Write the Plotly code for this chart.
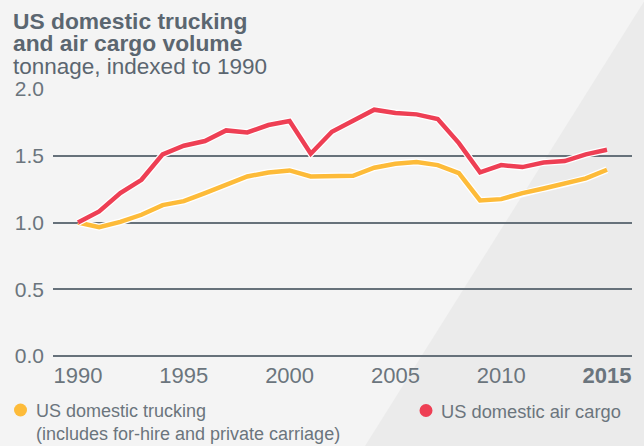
import plotly.graph_objects as go

years = list(range(1990, 2016))
trucking = [1.00, 0.965, 1.005, 1.058, 1.13, 1.16, 1.22, 1.28, 1.345, 1.375, 1.39,
            1.345, 1.35, 1.35, 1.41, 1.44, 1.453, 1.43, 1.37, 1.165, 1.175, 1.22,
            1.255, 1.29, 1.33, 1.395]
air_cargo = [1.00, 1.083, 1.22, 1.32, 1.51, 1.575, 1.61, 1.69, 1.675, 1.73, 1.76,
             1.515, 1.68, 1.76, 1.845, 1.82, 1.81, 1.775, 1.595, 1.375, 1.43, 1.415,
             1.45, 1.46, 1.51, 1.545]
x_ticks = [1990, 1995, 2000, 2005, 2010, 2015]
x_tick_labels = ["1990", "1995", "2000", "2005", "2010", "<b>2015</b>"]
y_ticks = [0.0, 0.5, 1.0, 1.5, 2.0]
y_tick_labels = ["0.0", "0.5", "1.0", "1.5", "2.0"]

W, H = 644, 446
L, R, T, B = 53, 12, 89, 90
PW, PH = W - L - R, H - T - B

def px(x):
    return (x - L) / PW

def py(y):
    return (H - B - y) / PH

FONT = "Liberation Sans, Arial, sans-serif"
TITLE_C = "#5B6670"
TICK_C = "#6B757D"
YELLOW = "#FDBB39"
RED = "#EE3F54"
BG = "#F4F4F4"

fig = go.Figure()
for vals, col in [(trucking, YELLOW), (air_cargo, RED)]:
    fig.add_trace(go.Scatter(x=years, y=vals, mode="lines",
                             line=dict(color="white", width=7), hoverinfo="skip",
                             showlegend=False, cliponaxis=False))
    fig.add_trace(go.Scatter(x=years, y=vals, mode="lines",
                             line=dict(color=col, width=4.5),
                             showlegend=False, cliponaxis=False))

shapes = [
    dict(type="path", xref="paper", yref="paper", layer="below",
         path=f"M {px(645)} {py(0)} L {px(365)} {py(446)} L {px(660)} {py(446)} L {px(660)} {py(0)} Z",
         fillcolor="#EBEBEB", line=dict(width=0)),
]
for cx, cy, col in [(20.5, 410, YELLOW), (426, 410.5, RED)]:
    shapes.append(dict(type="circle", xref="paper", yref="paper",
                       xsizemode="pixel", ysizemode="pixel",
                       xanchor=px(cx), yanchor=py(cy),
                       x0=-6.5, x1=6.5, y0=-6.5, y1=6.5,
                       fillcolor=col, line=dict(width=0)))

annotations = [
    dict(text="<b>US domestic trucking</b>", x=px(11), y=py(21), size=22.8, color=TITLE_C),
    dict(text="<b>and air cargo volume</b>", x=px(11), y=py(43), size=22.8, color=TITLE_C),
    dict(text="tonnage, indexed to 1990", x=px(11), y=py(66), size=22.5, color=TITLE_C),
    dict(text="US domestic trucking", x=px(34), y=py(411), size=18, color=TICK_C),
    dict(text="(includes for-hire and private carriage)", x=px(34), y=py(434), size=18, color=TICK_C),
    dict(text="US domestic air cargo", x=px(439), y=py(411), size=18.3, color=TICK_C),
]
ann = []
for a in annotations:
    ann.append(dict(text=a["text"], x=a["x"], y=a["y"], xref="paper", yref="paper",
                    xanchor="left", yanchor="middle", showarrow=False,
                    font=dict(family=FONT, size=a["size"], color=a["color"])))

fig.update_layout(
    width=W, height=H,
    margin=dict(l=L, r=R, t=T, b=B, pad=0),
    paper_bgcolor=BG, plot_bgcolor="rgba(0,0,0,0)",
    showlegend=False,
    shapes=shapes, annotations=ann,
    xaxis=dict(range=[1990 - 25 / 529 * 25, 2015 + 25 / 529 * 25],
               tickmode="array", tickvals=x_ticks, ticktext=x_tick_labels,
               showgrid=False, zeroline=False, showline=False, ticks="",
               tickfont=dict(family=FONT, size=22, color=TICK_C),
               ticklabelstandoff=4),
    yaxis=dict(range=[0, 2.0], tickmode="array", tickvals=y_ticks, ticktext=y_tick_labels,
               showgrid=True, gridcolor="#66717A", gridwidth=1.5,
               zeroline=True, zerolinecolor="#66717A", zerolinewidth=1.5,
               showline=False, ticks="",
               tickfont=dict(family=FONT, size=21, color=TICK_C),
               ticklabelstandoff=8),
)

fig.write_html("out.html", config={"displayModeBar": False},
               post_script="document.body.style.margin='0';document.body.style.background='%s';" % BG)
